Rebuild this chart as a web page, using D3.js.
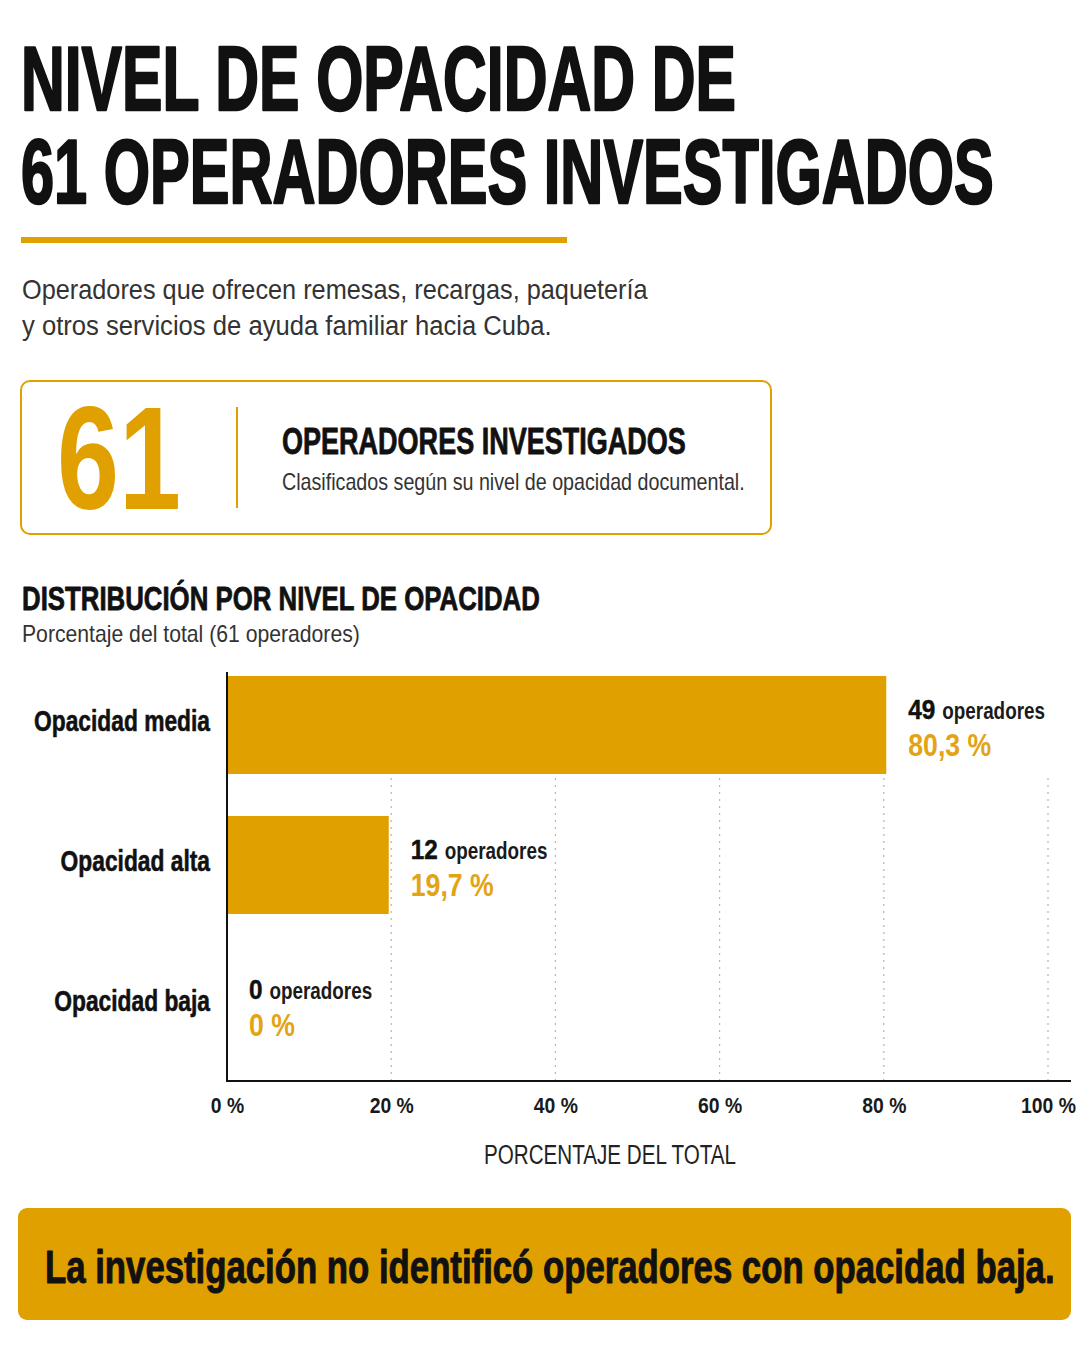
<!DOCTYPE html>
<html lang="es">
<head>
<meta charset="utf-8">
<script src="https://cdn.jsdelivr.net/npm/d3@7"></script>
<style>
  html, body { margin: 0; padding: 0; background: #ffffff; }
  svg { display: block; }
</style>
</head>
<body>
<svg id="chart" width="1090" height="1363"></svg>
<script>
// ---------------- DATA ----------------
const titleLines = ["NIVEL DE OPACIDAD DE", "61 OPERADORES INVESTIGADOS"];
const subtitleLines = [
  "Operadores que ofrecen remesas, recargas, paquetería",
  "y otros servicios de ayuda familiar hacia Cuba."
];
const totalOperators = 61;
const kpiTitle = "OPERADORES INVESTIGADOS";
const kpiText = "Clasificados según su nivel de opacidad documental.";
const chartTitle = "DISTRIBUCIÓN POR NIVEL DE OPACIDAD";
const chartSubtitle = "Porcentaje del total (61 operadores)";
const categories = ["Opacidad media", "Opacidad alta", "Opacidad baja"];
const counts = [49, 12, 0];
const percents = [80.3, 19.7, 0];
const percentLabels = ["80,3 %", "19,7 %", "0 %"];
const xTicks = [0, 20, 40, 60, 80, 100];
const xAxisTitle = "PORCENTAJE DEL TOTAL";
const footnote = "La investigación no identificó operadores con opacidad baja.";

// ---------------- STYLE ----------------
const GOLD = "#E0A000";
const GOLD_TEXT = "#E2A414";
const INK = "#111111";
const GREY = "#333333";
const FONT = "'Liberation Sans', Arial, sans-serif";

const svg = d3.select("#chart");

// Text helper: horizontally condensed via a scale transform around the anchor point
function txt(g, o) {
  const wrap = g.append("g").attr("transform", `translate(${o.x},${o.y})`);
  const t = wrap.append("text")
    .attr("x", 0).attr("y", 0)
    .attr("font-family", FONT)
    .attr("font-size", o.size)
    .attr("font-weight", o.weight || "normal")
    .attr("fill", o.fill || INK)
    .attr("text-anchor", o.anchor || "start")
    .text(o.text);
  if (o.stroke) {
    t.attr("stroke", o.fill || INK).attr("stroke-width", o.stroke).attr("stroke-linejoin", "round");
  }
  const natural = t.node().getComputedTextLength();
  let sx = 1;
  if (o.width) sx = o.width / natural;
  else if (o.factor) sx = o.factor;
  wrap.attr("transform", `translate(${o.x},${o.y}) scale(${sx},1)`);
  wrap.node().__w = natural * sx;
  return wrap;
}
const widthOf = w => w.node().__w;

// ---------------- HEADER ----------------
const titleWidths = [715, 973];
const titleBaselines = [110, 203];
titleLines.forEach((l, i) => txt(svg, {x: 21, y: titleBaselines[i], text: l, size: 90, weight: "bold", width: titleWidths[i], stroke: 2.4}));

svg.append("rect").attr("x", 21).attr("y", 237).attr("width", 546).attr("height", 6).attr("fill", GOLD);

const subWidths = [626, 530];
subtitleLines.forEach((l, i) => txt(svg, {x: 22, y: 299 + i * 36, text: l, size: 28, fill: GREY, width: subWidths[i]}));

// ---------------- KPI BOX ----------------
svg.append("rect").attr("x", 21).attr("y", 381).attr("width", 750).attr("height", 153)
  .attr("rx", 9).attr("fill", "#fff").attr("stroke", GOLD).attr("stroke-width", 2);
txt(svg, {x: 57, y: 509, text: String(totalOperators), size: 146, weight: "bold", fill: GOLD, width: 124});
svg.append("line").attr("x1", 237).attr("x2", 237).attr("y1", 407).attr("y2", 508)
  .attr("stroke", GOLD).attr("stroke-width", 2);
txt(svg, {x: 282, y: 454, text: kpiTitle, size: 37, weight: "bold", width: 404, stroke: 0.8});
txt(svg, {x: 282, y: 490, text: kpiText, size: 24, fill: GREY, width: 463});

// ---------------- CHART HEADER ----------------
txt(svg, {x: 22, y: 610, text: chartTitle, size: 34, weight: "bold", width: 518, stroke: 0.8});
txt(svg, {x: 22, y: 642, text: chartSubtitle, size: 24, fill: GREY, width: 338});

// ---------------- CHART ----------------
const x = d3.scaleLinear().domain([0, 100]).range([227, 1048]);
const y = d3.scaleBand().domain(categories).range([655, 1075]).paddingInner(0.3).paddingOuter(0.15);
const axisY = 1081;

const plot = svg.append("g");

// gridlines (dotted)
plot.selectAll("line.grid").data(xTicks.filter(d => d > 0)).join("line")
  .attr("class", "grid")
  .attr("x1", d => x(d)).attr("x2", d => x(d))
  .attr("y1", y(categories[0]) + y.bandwidth() + 4).attr("y2", axisY)
  .attr("stroke", "#b5b5b5").attr("stroke-width", 1.2).attr("stroke-dasharray", "2,5");

// bars
plot.selectAll("rect.bar").data(categories).join("rect")
  .attr("class", "bar")
  .attr("x", x(0))
  .attr("y", d => y(d))
  .attr("width", (d, i) => x(percents[i]) - x(0))
  .attr("height", y.bandwidth())
  .attr("fill", GOLD);

// y axis line
plot.append("line").attr("x1", x(0)).attr("x2", x(0)).attr("y1", 672).attr("y2", axisY + 1)
  .attr("stroke", INK).attr("stroke-width", 2);

// x axis (labels only, via d3 axis), then baseline
const xAxis = d3.axisBottom(x).tickValues(xTicks).tickSize(0).tickPadding(0).tickFormat(d => d + " %");
const gx = plot.append("g").attr("transform", `translate(0,${axisY})`).call(xAxis);
gx.select(".domain").remove();
gx.selectAll(".tick text")
  .attr("font-family", FONT).attr("font-size", 22).attr("font-weight", "bold")
  .attr("fill", "#1a1a1a").attr("dy", null).attr("y", 32)
  .attr("transform", "scale(0.88,1)");
plot.append("line").attr("x1", x(0) - 1).attr("x2", 1071).attr("y1", axisY).attr("y2", axisY)
  .attr("stroke", INK).attr("stroke-width", 2);

// category labels
categories.forEach((c) => {
  txt(plot, {x: 210, y: y(c) + y.bandwidth() / 2 + 6, text: c, size: 30, weight: "bold", anchor: "end", factor: 0.76, stroke: 0.6});
});

// value labels
categories.forEach((c, i) => {
  const lx = x(percents[i]) + 22;
  const cy = y(c) + y.bandwidth() / 2;
  const n = txt(plot, {x: lx, y: cy - 6, text: String(counts[i]), size: 27, weight: "bold", factor: 0.9, stroke: 0.5});
  txt(plot, {x: lx + widthOf(n) + 7, y: cy - 6, text: "operadores", size: 23, weight: "bold", fill: "#1a1a1a", factor: 0.82});
  txt(plot, {x: lx, y: cy + 31, text: percentLabels[i], size: 31, weight: "bold", fill: GOLD_TEXT, factor: 0.86});
});

// axis title
txt(svg, {x: 610, y: 1164, text: xAxisTitle, size: 28, fill: "#222", anchor: "middle", width: 252});

// ---------------- FOOTNOTE BANNER ----------------
svg.append("rect").attr("x", 18).attr("y", 1208).attr("width", 1053).attr("height", 112)
  .attr("rx", 9).attr("fill", GOLD);
txt(svg, {x: 45, y: 1283, text: footnote, size: 46, weight: "bold", width: 1010, stroke: 1});
</script>
</body>
</html>
